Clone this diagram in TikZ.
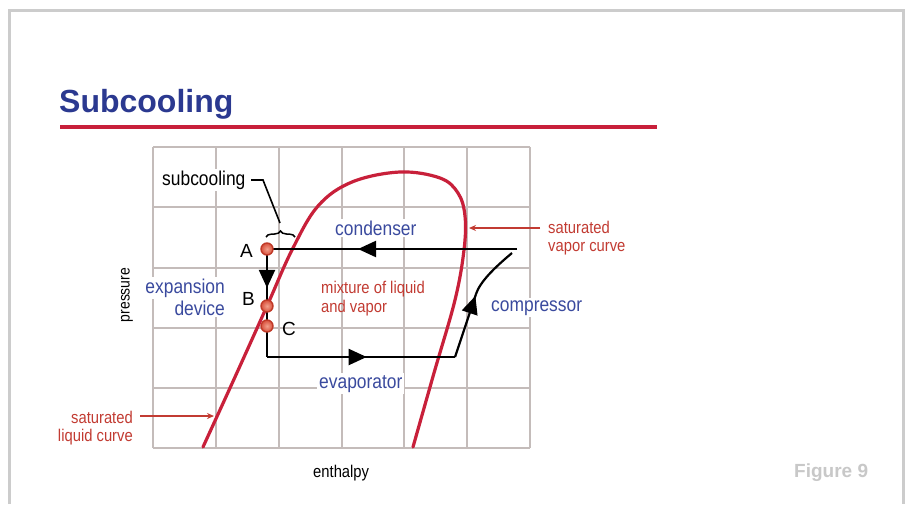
\documentclass[tikz,border=0pt]{standalone}
\usepackage{fontspec}
\setmainfont{Liberation Sans}
\newfontfamily\nar[FakeStretch=0.87]{Liberation Sans}
\usetikzlibrary{decorations.pathreplacing,decorations.markings,arrows.meta}
\definecolor{tblue}{HTML}{2B3990}
\definecolor{lblue}{HTML}{3A4A9E}
\definecolor{cred}{HTML}{C8203A}
\definecolor{tred}{HTML}{C23B32}
\definecolor{gridc}{HTML}{C4BCBA}
\definecolor{framec}{HTML}{CCCCCC}
\definecolor{figc}{HTML}{C8C8C8}
\definecolor{ptin}{HTML}{F2A08C}
\definecolor{ptout}{HTML}{D8503C}
\definecolor{ptedge}{HTML}{C03A28}
\begin{document}
\begin{tikzpicture}[x=1pt,y=-1pt,
  gridline/.style={gridc, line width=1.8pt},
  cyc/.style={black, line width=2.2pt},
  midarrow/.style={postaction={decorate,decoration={markings,mark=at position #1 with {\arrow{Triangle[length=18pt,width=16pt]}}}}},
  bluelbl/.style={text=lblue, font=\nar\fontsize{20}{22}\selectfont, fill=white, inner sep=2pt},
  redlbl/.style={text=tred, font=\nar\fontsize{17}{18.5}\selectfont, inner sep=1pt},
  blklbl/.style={text=black, font=\nar\fontsize{20}{22}\selectfont, fill=white, inner sep=2pt},
  letter/.style={text=black, font=\fontsize{19}{21}\selectfont, inner sep=0pt},
  ptc/.style={circle, minimum size=12pt, inner sep=0pt, inner color=ptin, outer color=ptout, draw=ptedge, line width=1.4pt},
  satarrow/.style={tred, line width=2pt, -{Stealth[length=7pt,width=6pt]}}
]
\useasboundingbox (0,0) rectangle (909,504);
\fill[white] (0,0) rectangle (909,504);
% frame
\draw[framec, line width=3pt] (9,504) -- (9,10) -- (903,10) -- (903,504);
% title
\node[anchor=base west, inner sep=0pt, text=tblue, font=\bfseries\fontsize{32}{34}\selectfont] (title) at (59,112) {Subcooling};
\coordinate (rl1) at (60,127);
\coordinate (rl2) at (657,127);
\draw[cred, line width=4pt] (rl1) -- (rl2);
% grid
\foreach \x in {153,216,279,342,404,467,530} \draw[gridline] (\x,147) -- (\x,448);
\foreach \y in {147,207,268,328,388,448} \draw[gridline] (153,\y) -- (530,\y);
% saturation dome
\draw[cred, line width=3.2pt, line cap=round] plot[smooth, tension=0.6] coordinates {(203,447) (235,377) (267,306) (292,250) (318,206) (352,182) (400,172) (440,178) (458,193) (465,216) (464,250) (455,300) (434,373) (413,447)};
% cycle coordinates
\coordinate (a) at (267,249);
\coordinate (bl) at (267,357);
\coordinate (br) at (455,357);
\coordinate (cm) at (476,294);
\coordinate (ct) at (512,253);
\coordinate (rt) at (517,249);
\draw[cyc, midarrow=0.636] (rt) -- (a);
\draw[cyc, midarrow=0.36] (a) -- (bl);
\draw[cyc, midarrow=0.53] (bl) -- (br);
\draw[cyc, midarrow=0.97] (br) -- (cm);
\draw[cyc] (cm) .. controls (480,282) and (494,268) .. (ct);
% points
\node[ptc] (A) at (267,249) {};
\node[ptc] (B) at (267,306) {};
\node[ptc] (C) at (267,326) {};
\node[letter, anchor=base west] (la) at (240,257) {A};
\node[letter, anchor=base west] (lb) at (242,305) {B};
\node[letter, anchor=base west] (lc) at (282,335) {C};
% subcooling
\node[blklbl, anchor=base west] (sub) at (160,185) {subcooling};
\coordinate (s1) at (251,180);
\coordinate (s2) at (263,180);
\coordinate (s3) at (280,223);
\draw[black, line width=1.6pt] (s1) -- (s2) -- (s3);
\coordinate (br1) at (266,237);
\coordinate (br2) at (295,237);
\draw[black, line width=1.5pt, decorate, decoration={brace, amplitude=6pt}] (br1) -- (br2);
% labels
\node[bluelbl, anchor=base west] (cond) at (333,235) {condenser};
\node[bluelbl, anchor=base east, align=right] (exp1) at (227,293) {expansion};
\node[bluelbl, anchor=base east, align=right] (exp2) at (227,315) {device};
\node[redlbl, anchor=base west] (mix1) at (320,293) {mixture of liquid};
\node[redlbl, anchor=base west] (mix2) at (320,312) {and vapor};
\node[bluelbl, anchor=base west] (comp) at (489,311) {compressor};
\node[bluelbl, anchor=base west] (evap) at (317,388) {evaporator};
% saturated vapor
\node[redlbl, anchor=base west] (sv1) at (547,233) {saturated};
\node[redlbl, anchor=base west] (sv2) at (547,251) {vapor curve};
\coordinate (svs) at (540,228);
\coordinate (svt) at (469,228);
\draw[satarrow] (svs) -- (svt);
% saturated liquid
\node[redlbl, anchor=base east] (sl1) at (134,423) {saturated};
\node[redlbl, anchor=base east] (sl2) at (134,441) {liquid curve};
\coordinate (sls) at (140,416);
\coordinate (slt) at (214,416);
\draw[satarrow] (sls) -- (slt);
% axes
\node[text=black, font=\nar\fontsize{16}{18}\selectfont, rotate=90, inner sep=0pt] (pres) at (127,295) {pressure};
\node[text=black, font=\nar\fontsize{17}{19}\selectfont, anchor=base west, inner sep=0pt] (enth) at (313,477) {enthalpy};
% figure label
\node[text=figc, font=\bfseries\fontsize{19}{21}\selectfont, anchor=base west, inner sep=0pt] (fig) at (794,477) {Figure 9};
\end{tikzpicture}
\end{document}
